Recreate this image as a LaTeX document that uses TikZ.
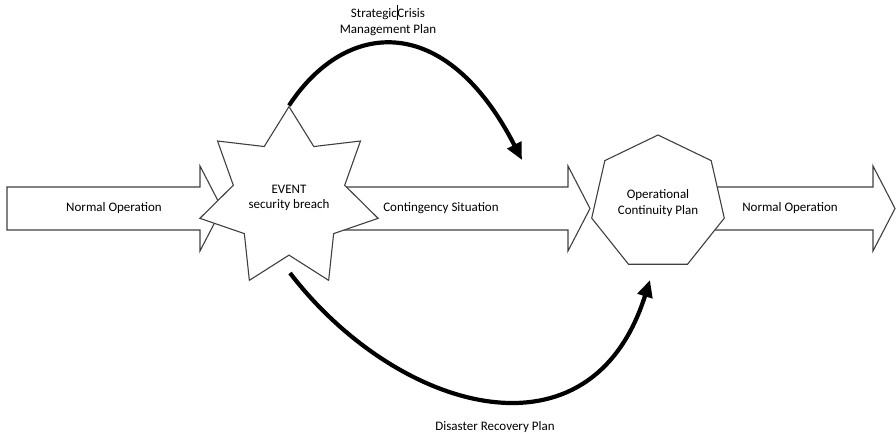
\documentclass[tikz,border=0pt]{standalone}
\usepackage{fontspec}
\setmainfont{Carlito}
\usetikzlibrary{arrows.meta, shapes.geometric}

\begin{document}
\begin{tikzpicture}[x=1pt,y=-1pt,
        font=\fontsize{13}{15.5}\selectfont,
        band/.style={draw=black!75, line width=1.1pt, fill=white},
        plan/.style={draw=black!75, line width=1.1pt, fill=white, align=center, inner sep=0pt},
        route/.style={line width=4.2pt, -{Triangle[length=17pt,width=15pt]}}]
        \useasboundingbox (0,0) rectangle (896,435);
        % block arrows along the time line
        \foreach \from/\tip in {7/222, 300/590, 700/895} {
            \draw[band] (\from,187) -- (\tip-22,187) -- (\tip-22,166) -- (\tip,208.5)
                -- (\tip-22,251) -- (\tip-22,230) -- (\from,230) -- cycle;
        }
        \node (normalA) at (114,208) {Normal Operation};
        \node (contingency) at (441,208) {Contingency Situation};
        \node (normalB) at (790,208) {Normal Operation};
        % the event and the plan that ends it
        \node[plan, star, star points=7, star point ratio=1.6, minimum size=182] (event) at (289,198) {EVENT\\security breach};
        \node[plan, regular polygon, regular polygon sides=7, minimum size=136] (ocp) at (658,203) {Operational\\Continuity Plan};
        \coordinate (crisisEnd) at (522,160);
        \coordinate (drpStart) at (290,273);
        \coordinate (drpEnd) at (650,280);
        \draw[route] (event.north) .. controls (345,20) and (445,10) .. (crisisEnd);
        \draw[route] (drpStart) .. controls (395,410) and (590,470) .. (drpEnd);
        \node[align=center] (crisis) at (388,20) {Strategic\rule[-0.3ex]{0.5pt}{2.4ex}Crisis\\Management Plan};
        \node (drp) at (495,427) {Disaster Recovery Plan};
    \end{tikzpicture}
\end{document}
